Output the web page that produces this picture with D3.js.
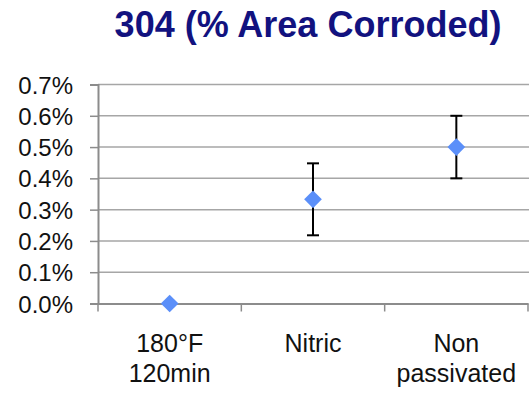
<!DOCTYPE html>
<html>
<head>
<meta charset="utf-8">
<script src="https://cdn.jsdelivr.net/npm/d3@7"></script>
<style>
  html, body { margin: 0; padding: 0; background: #fff; }
  svg { display: block; }
  text { font-family: "Liberation Sans", Arial, sans-serif; }
</style>
</head>
<body>
<svg id="chart" width="529" height="393"></svg>
<script>
const title = "304 (% Area Corroded)";
const categories = [["180°F", "120min"], ["Nitric"], ["Non", "passivated"]];
const categoryKeys = ["180°F 120min", "Nitric", "Non passivated"];
const values = [0.0, 0.00333, 0.005];
const errors = [0.0, 0.00115, 0.001];
const yTicks = [0, 0.001, 0.002, 0.003, 0.004, 0.005, 0.006, 0.007];

const svg = d3.select("#chart");
const plotLeft = 98, plotRight = 528, plotTop = 84.5, plotBottom = 303.5;

const x = d3.scaleBand().domain(categoryKeys).range([plotLeft, plotRight]).padding(0);
const y = d3.scaleLinear().domain([0, 0.007]).range([plotBottom, plotTop]);

// Title
svg.append("text")
  .attr("x", 308).attr("y", 37)
  .attr("text-anchor", "middle")
  .attr("font-size", 36).attr("font-weight", "bold")
  .attr("fill", "#12127f")
  .text(title);

// Gridlines
svg.append("g")
  .selectAll("line")
  .data(yTicks.filter(d => d > 0))
  .join("line")
  .attr("x1", plotLeft).attr("x2", 529)
  .attr("y1", d => y(d)).attr("y2", d => y(d))
  .attr("stroke", "#a6a6a6").attr("stroke-width", 1.5);

// Y axis
const yAxis = svg.append("g")
  .attr("transform", `translate(${plotLeft},0)`)
  .call(d3.axisLeft(y).tickValues(yTicks).tickFormat(d3.format(".1%")).tickSizeOuter(0).tickSize(8).tickPadding(17));
yAxis.select(".domain").attr("stroke", "#8c8c8c").attr("stroke-width", 2);
yAxis.selectAll(".tick line").attr("stroke", "#8c8c8c").attr("stroke-width", 1.5);
yAxis.selectAll(".tick text")
  .attr("font-size", 24)
  .attr("fill", "#111")
  .attr("font-family", "Liberation Sans, Arial, sans-serif")
  .attr("dy", "0.36em");

// X axis
const xAxis = svg.append("g")
  .attr("transform", `translate(0,${plotBottom})`)
  .call(d3.axisBottom(x).tickValues([]).tickSizeOuter(0));
xAxis.select(".domain").attr("stroke", "#8c8c8c").attr("stroke-width", 2);
const bounds = categoryKeys.map(c => x(c)).concat([x(categoryKeys[categoryKeys.length - 1]) + x.bandwidth()]);
xAxis.selectAll("line.bt")
  .data(bounds)
  .join("line")
  .attr("class", "bt")
  .attr("x1", d => d).attr("x2", d => d)
  .attr("y1", 0).attr("y2", 8)
  .attr("stroke", "#8c8c8c").attr("stroke-width", 1.5);

// Category labels
const labels = svg.append("g");
categories.forEach((lines, i) => {
  const cx = x(categoryKeys[i]) + x.bandwidth() / 2;
  const t = labels.append("text")
    .attr("text-anchor", "middle")
    .attr("font-size", 25)
    .attr("fill", "#111");
  lines.forEach((ln, j) => {
    t.append("tspan").attr("x", cx).attr("y", 352 + j * 30).text(ln);
  });
});

// Error bars
const eb = svg.append("g");
values.forEach((v, i) => {
  const e = errors[i];
  if (e <= 0) return;
  const cx = x(categoryKeys[i]) + x.bandwidth() / 2;
  eb.append("line").attr("x1", cx).attr("x2", cx)
    .attr("y1", y(v + e)).attr("y2", y(v - e))
    .attr("stroke", "#000").attr("stroke-width", 2);
  [v + e, v - e].forEach(val => {
    eb.append("line").attr("x1", cx - 6).attr("x2", cx + 6)
      .attr("y1", y(val)).attr("y2", y(val))
      .attr("stroke", "#000").attr("stroke-width", 2);
  });
});

// Diamond markers
const diamond = d3.symbol().type(d3.symbolDiamond2).size(200);
svg.append("g")
  .selectAll("path")
  .data(values)
  .join("path")
  .attr("transform", (d, i) => `translate(${x(categoryKeys[i]) + x.bandwidth() / 2},${y(d)})`)
  .attr("d", diamond)
  .attr("fill", "#5b8ff9");
</script>
</body>
</html>
